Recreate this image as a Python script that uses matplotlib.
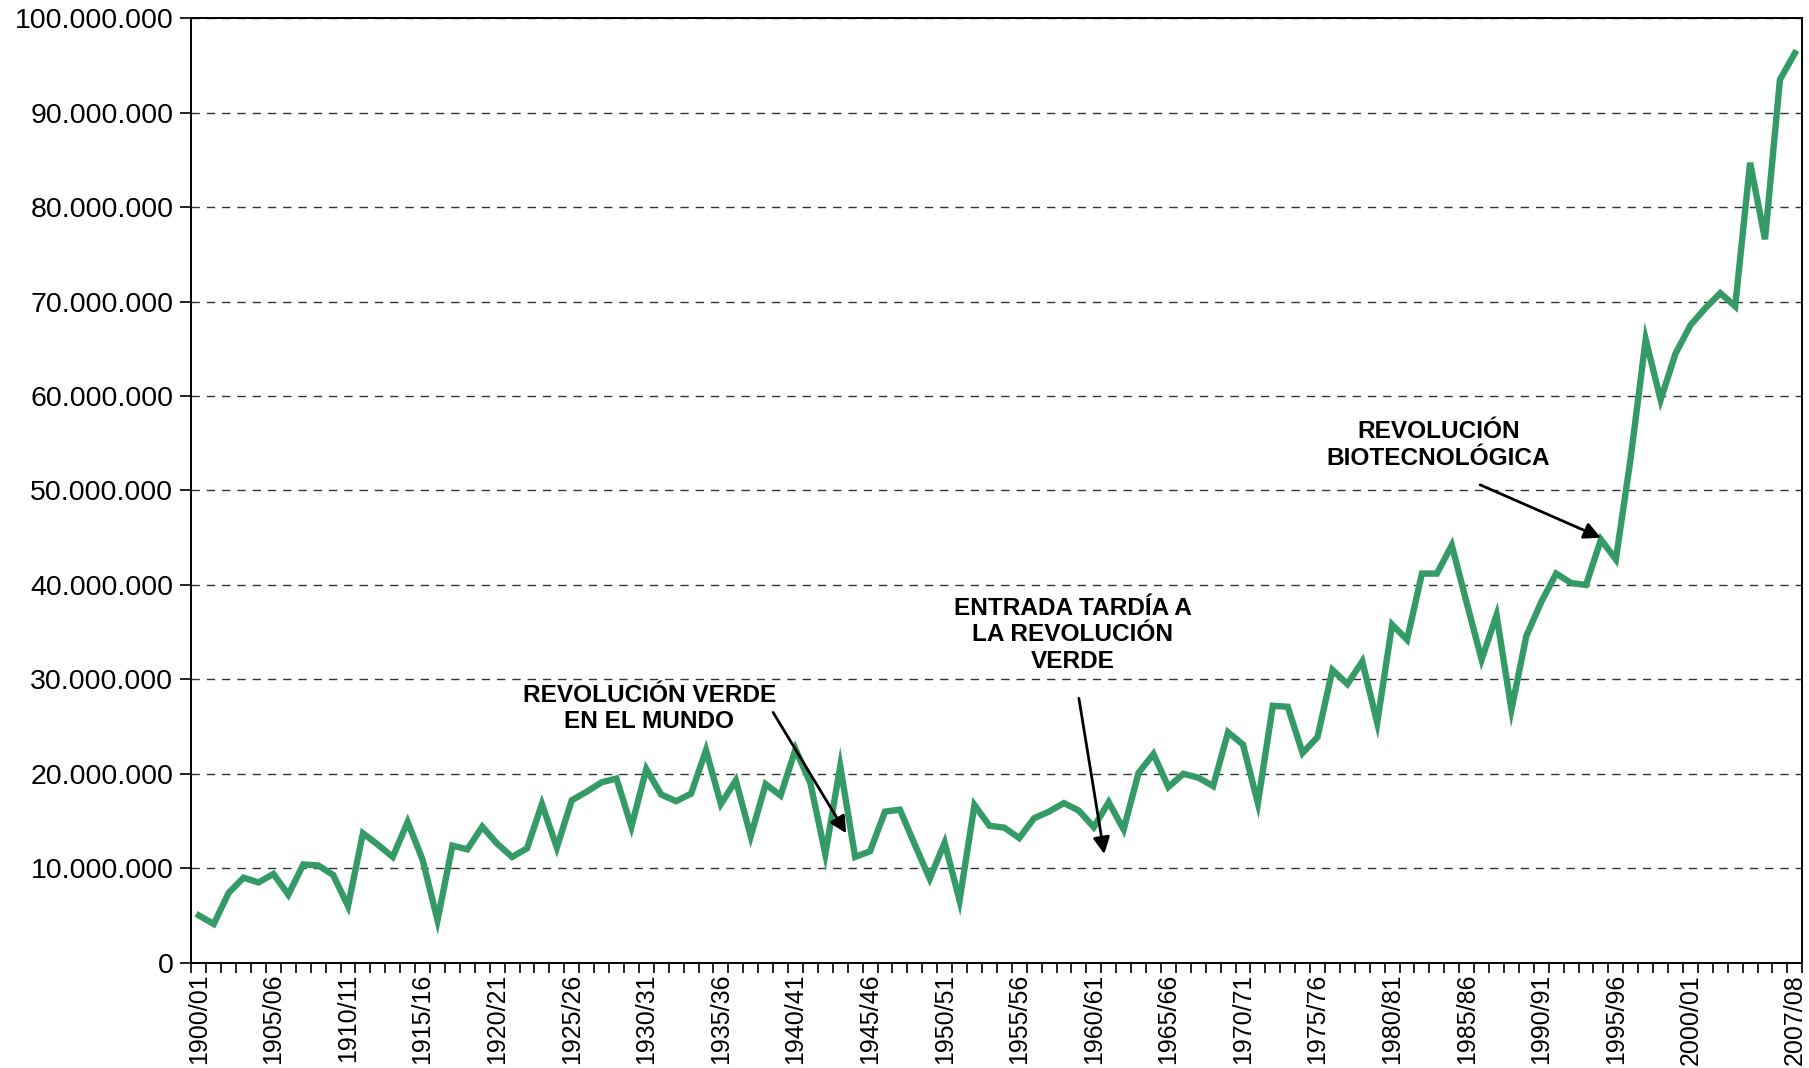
import matplotlib.pyplot as plt
from matplotlib.ticker import FuncFormatter, FixedLocator
import numpy as np

plt.rcParams['font.family'] = ['Liberation Sans', 'DejaVu Sans']

# campañas 1900/01 .. 2007/08
first_year = 1900
n_years = 108
seasons = [f"{y}/{str(y + 1)[-2:]}" for y in range(first_year, first_year + n_years)]

production = [
    5.0, 4.1, 7.4, 9.0, 8.5, 9.4, 7.2, 10.4, 10.3, 9.3,
    6.0, 13.7, 12.5, 11.2, 14.9, 10.9, 4.5, 12.4, 12.0, 14.4,
    12.6, 11.2, 12.1, 16.8, 12.2, 17.2, 18.1, 19.1, 19.5, 14.4,
    20.5, 17.8, 17.1, 17.9, 22.5, 16.8, 19.3, 13.4, 18.9, 17.7,
    22.6, 19.0, 11.5, 20.8, 11.2, 11.8, 16.0, 16.2, 12.5, 8.9,
    12.7, 6.6, 16.7, 14.5, 14.3, 13.2, 15.3, 16.0, 16.9, 16.1,
    14.35, 17.0, 14.1, 20.1, 22.1, 18.6, 20.0, 19.6, 18.7, 24.4,
    23.1, 16.9, 27.2, 27.1, 22.2, 23.9, 31.0, 29.5, 31.9, 25.4,
    35.8, 34.2, 41.2, 41.2, 44.2, 38.1, 32.1, 36.8, 26.8, 34.6,
    38.2, 41.2, 40.2, 40.0, 44.8, 42.7, 53.5, 66.0, 59.6, 64.5,
    67.5, 69.3, 70.9, 69.5, 84.7, 76.6, 93.5, 96.3,
]
production = [v * 1e6 for v in production]

label_seasons = ["1900/01", "1905/06", "1910/11", "1915/16", "1920/21", "1925/26",
                 "1930/31", "1935/36", "1940/41", "1945/46", "1950/51", "1955/56",
                 "1960/61", "1965/66", "1970/71", "1975/76", "1980/81", "1985/86",
                 "1990/91", "1995/96", "2000/01", "2007/08"]

notes = ["REVOLUCIÓN VERDE\nEN EL MUNDO",
         "ENTRADA TARDÍA A\nLA REVOLUCIÓN\nVERDE",
         "REVOLUCIÓN\nBIOTECNOLÓGICA"]
note_text_at = [(30.2, 26.9e6), (58.6, 34.7e6), (83.1, 54.8e6)]
note_tail = [(38.5, 26.5e6), (59.0, 28.0e6), (85.9, 50.6e6)]
note_head = [(43.4, 13.7e6), (60.7, 11.5e6), (94.0, 45.0e6)]

fig = plt.figure(figsize=(18.09, 10.68), dpi=100)
ax = fig.add_axes([0.1058, 0.0986, 0.8905, 0.8843])

x = np.arange(n_years)
ax.plot(x, production, color='#349a66', linewidth=4.6, solid_joinstyle='miter')

ax.set_xlim(-0.5, n_years - 0.5)
ax.set_ylim(0, 100e6)
ax.set_yticks(np.arange(0, 100e6 + 1, 10e6))
ax.yaxis.set_major_formatter(FuncFormatter(lambda v, p: f"{int(v):,}".replace(",", ".")))
ax.yaxis.grid(True, linestyle=(0, (6, 5)), color='#333333', linewidth=1.0)
ax.set_axisbelow(True)

pos = [seasons.index(s) for s in label_seasons]
ax.xaxis.set_major_locator(FixedLocator(pos))
ax.set_xticklabels(label_seasons, rotation=90)
ax.xaxis.set_minor_locator(FixedLocator(np.arange(-0.5, n_years, 1)))
ax.tick_params(axis='x', which='major', length=0, labelsize=18, pad=8)
ax.tick_params(axis='x', which='minor', length=7, width=1.2, direction='out')
ax.tick_params(axis='y', length=8, width=1.2, labelsize=20.5, pad=5)

for sp in ax.spines.values():
    sp.set_linewidth(1.4)
    sp.set_color('black')

for txt, tpos, tail, head in zip(notes, note_text_at, note_tail, note_head):
    ax.text(tpos[0], tpos[1], txt, ha='center', va='center', fontsize=17.6,
            fontweight='bold', linespacing=1.2)
    ax.annotate("", xy=head, xytext=tail,
                arrowprops=dict(arrowstyle='-|>', color='black', lw=2,
                                mutation_scale=25, shrinkA=0, shrinkB=0))

fig.savefig("out.png", dpi=100)
